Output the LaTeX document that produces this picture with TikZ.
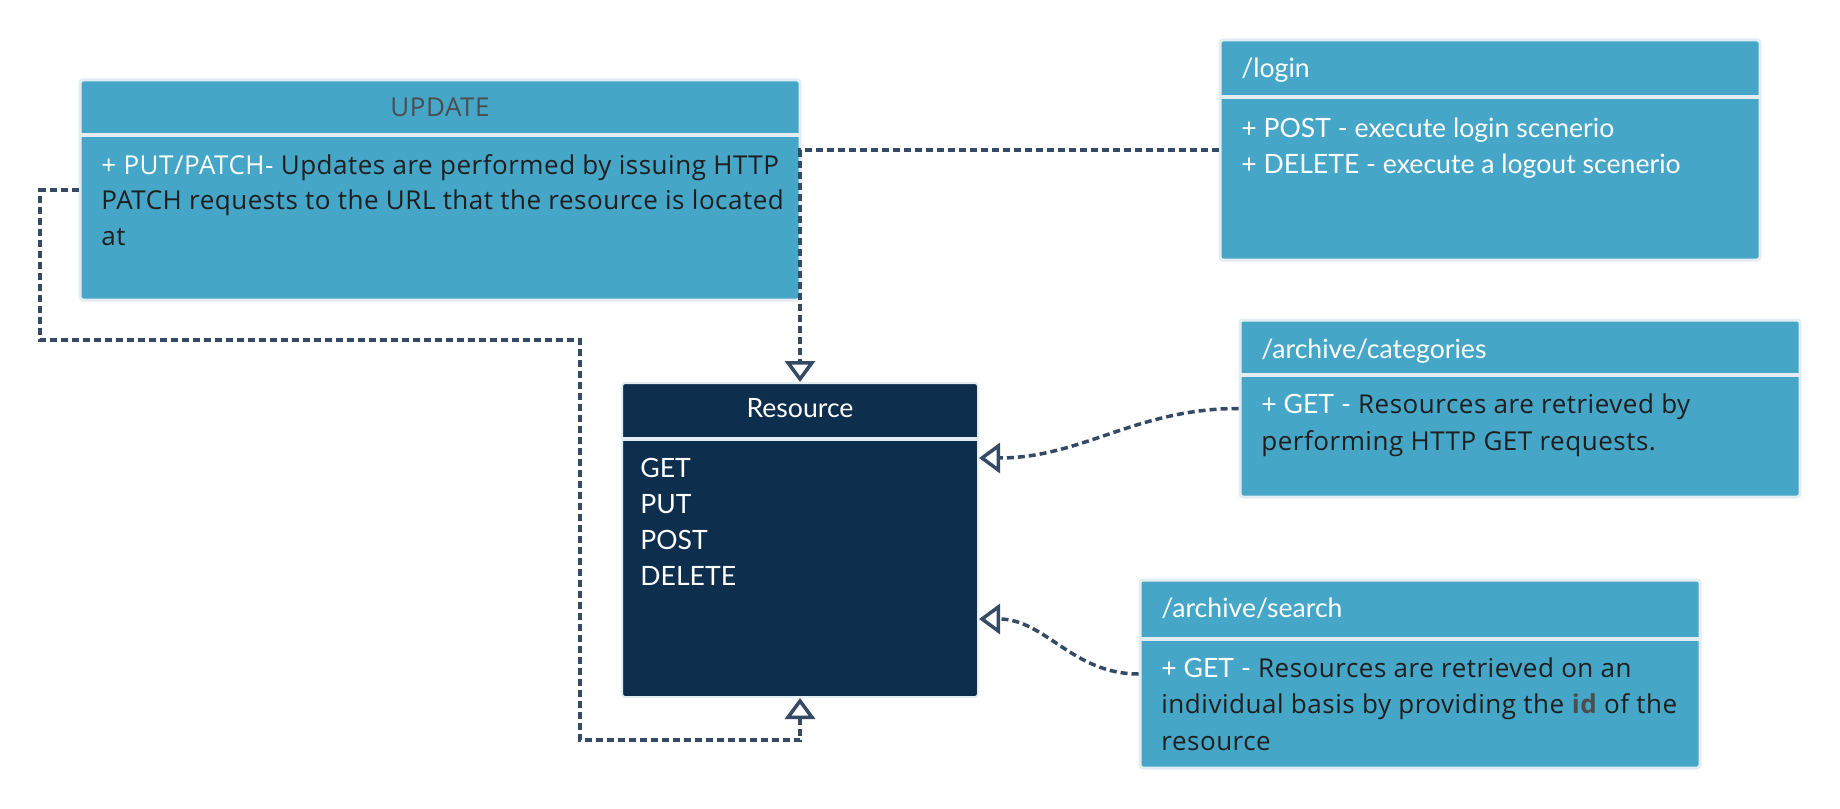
\documentclass[tikz,border=0pt]{standalone}
\usepackage{fontspec}
\setmainfont{Open Sans}[LetterSpace=2]
\newfontfamily\latofont{Lato}
\usetikzlibrary{arrows.meta,positioning}

\definecolor{boxblue}{HTML}{46A6C7}
\definecolor{boxedge}{HTML}{E4EDF1}
\definecolor{resnavy}{HTML}{0E2E4D}
\definecolor{linkgray}{HTML}{354A64}
\definecolor{bodyink}{HTML}{1E1E1E}
\definecolor{titlegray}{HTML}{4D4D4D}

\newcommand{\methodtag}[1]{{\latofont\fontsize{13.3}{15}\selectfont\color{white}#1}}

\tikzset{
  classbox/.style={draw=boxedge, fill=boxblue, line width=1.5pt, rounded corners=1.5pt, inner sep=0pt},
  resbox/.style={classbox, fill=resnavy, line width=1pt},
  sepline/.style={draw=boxedge, line width=2pt},
  wtxt/.style={font=\latofont\fontsize{13.3}{15}\selectfont, text=white, inner sep=0pt, anchor=base west},
  btxt/.style={font=\fontsize{13}{15}\selectfont, text=bodyink, inner sep=0pt, anchor=base west},
  link/.style={draw=linkgray, line width=1.75pt, dash pattern=on 3.5pt off 2pt, -{Triangle[open, length=10.5pt, width=15pt]}}
}

\begin{document}
\begin{tikzpicture}[x=0.5pt, y=-0.5pt]
  \useasboundingbox (0,0) rectangle (1840,808);

  % class boxes
  \node[classbox, minimum width=360pt, minimum height=110pt] (upd) at (440,190) {};
  \node[classbox, minimum width=270pt, minimum height=110pt] (login) at (1490,150) {};
  \node[classbox, minimum width=280pt, minimum height=88.5pt] (cat) at (1520,408.5) {};
  \node[classbox, minimum width=280pt, minimum height=94pt] (search) at (1420,674) {};
  \node[resbox, minimum width=178pt, minimum height=157pt] (res) at (800,540) {};

  \foreach \n/\d in {upd/28pt, login/29.5pt, cat/28pt, search/30pt, res/28.5pt}
    \draw[sepline] ([yshift=-\d, xshift=0.75pt]\n.north west) -- ([yshift=-\d, xshift=-0.75pt]\n.north east);

  % UPDATE
  \node[font=\fontsize{13}{15}\selectfont, text=titlegray, anchor=base] (updtitle) at (440,117) {UPDATE};
  \node[btxt] (upd1) at (101,174) {\textcolor{white}{+ PUT/PATCH-} Updates are performed by issuing HTTP};
  \node[btxt] (upd2) at (101,209) {PATCH requests to the URL that the resource is located};
  \node[btxt] (upd3) at (101,245) {at};

  % /login
  \node[wtxt] (logintitle) at (1241,78) {/login};
  \node[wtxt] (login1) at (1241,137) {+ POST - execute login scenerio};
  \node[wtxt] (login2) at (1241,173) {+ DELETE - execute a logout scenerio};

  % /archive/categories
  \node[wtxt] (cattitle) at (1261,358) {/archive/categories};
  \node[btxt] (cat1) at (1261,413) {\methodtag{+ GET -} Resources are retrieved by};
  \node[btxt] (cat2) at (1261,450) {performing HTTP GET requests.};

  % /archive/search
  \node[wtxt] (searchtitle) at (1161,617) {/archive/search};
  \node[btxt] (search1) at (1161,677) {\methodtag{+ GET -} Resources are retrieved on an};
  \node[btxt] (search2) at (1161,713) {individual basis by providing the \textbf{\color{titlegray}id} of the};
  \node[btxt] (search3) at (1161,750) {resource};

  % Resource
  \node[wtxt, anchor=base] (restitle) at (800,417) {Resource};
  \foreach \m [count=\i] in {GET,PUT,POST,DELETE}
    \node[wtxt] (res\i) at (640,{441+36*\i}) {\m};

  % connectors
  \draw[link] (login.west) -| (res.north);
  \draw[link] (upd.west) -- (40,190) -- (40,340) -- (580,340) -- (580,740) -| (res.south);
  \draw[link] (cat.west) to[out=180, in=0] ([yshift=-38pt]res.north east);
  \draw[link] (search.west) to[out=180, in=0] ([yshift=-118.5pt]res.north east);
\end{tikzpicture}
\end{document}
